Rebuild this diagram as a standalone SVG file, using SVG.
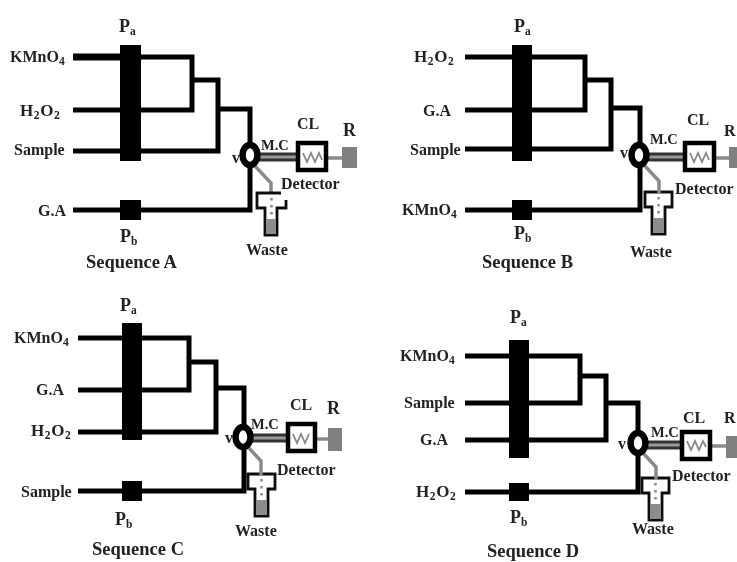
<svg xmlns="http://www.w3.org/2000/svg" xmlns:xlink="http://www.w3.org/1999/xlink" width="737" height="562" viewBox="0 0 737 562">
<style>
text{font-family:"Liberation Serif","Times New Roman",serif;font-weight:bold;font-size:16px;fill:#222}
.seq{font-size:18.5px}
.mcl{font-size:14.5px}
.cl{font-size:16px}
.big{font-size:18px}
.rr{font-size:16px}
.h{font-size:17px;letter-spacing:.6px}
.s{font-size:11.5px}
.l{fill:none;stroke:#000;stroke-width:5}
.thick{stroke-width:7}
.p{fill:#000}
.v{fill:#fff;stroke:#000;stroke-width:6.5}
.mc{fill:none;stroke:#333;stroke-width:9}
.mci{fill:none;stroke:#999;stroke-width:3}
.g{fill:none;stroke:#8a8a8a;stroke-width:3.5}
.d{fill:#fff;stroke:#000;stroke-width:4.5}
.w{fill:none;stroke:#888;stroke-width:1.8}
.r{fill:#808080}
.t{fill:#fff;stroke:#111;stroke-width:2.8}
.f{fill:#8c8c8c}
.dots{stroke:#888;stroke-width:2.5;stroke-dasharray:2.5 4.5;fill:none}
</style>
<defs>
<filter id="soft" x="0" y="0" width="100%" height="100%"><feGaussianBlur stdDeviation="0.55"/></filter>
<g id="wasteShape">
<path class="t" d="M0 0H27V15H20V42H7V15H0Z"/>
<path class="f" d="M8 26H19V41H8Z"/>
<path class="dots" d="M13.500 5V24"/>
</g>
<g id="wasteOpen">
<path class="t" d="M24 0H0V15H8V42H20V15H29V7" fill="none"/>
<path class="f" d="M9 26H19V41H9Z"/>
<path class="dots" d="M14.500 5V24"/>
</g>
</defs>
<rect width="737" height="562" fill="#fff"/>
<g filter="url(#soft)">
<g id="connectors">
<g id="connectors-A">
<path class="l thick" d="M73 57H122"/>
<path class="l" d="M141 57H192V110H73M192 80H218V151H73M218 109H250V150M73 210H250V160"/>
<path class="mc" d="M256 157H298"/><path class="mci" d="M256 157H298"/>
<path class="g" d="M254 165L271 183V195M326 158H342"/>
</g>
<g id="connectors-B">
<path class="l" d="M465 57H585V110H465M585 80H611V149H465M611 108H640V150M465 210H640V160"/>
<path class="mc" d="M646 157H684"/><path class="mci" d="M646 157H684"/>
<path class="g" d="M644 165L659 181M714 158H729"/>
</g>
<g id="connectors-C">
<path class="l" d="M78 338H189V390H78M189 362H216V432H78M216 388H244V432M78 491H244V442"/>
<path class="mc" d="M249 438H287"/><path class="mci" d="M249 438H287"/>
<path class="g" d="M247 446L261 461M315 439H329"/>
</g>
<g id="connectors-D">
<path class="l" d="M465 356H580V403H465M580 376H606V440H465M606 403H638V438M465 492H638V448"/>
<path class="mc" d="M644 445H681"/><path class="mci" d="M644 445H681"/>
<path class="g" d="M643 453L656 467M711 446H727"/>
</g>
</g>

<g id="A-Pa"><rect class="p" x="120" y="45" width="21" height="116"/><text class="big" x="119" y="32">P<tspan class="s" dy="3">a</tspan></text></g>
<g id="A-Pb"><rect class="p" x="120" y="200" width="21" height="20"/><text class="big" x="120" y="242">P<tspan class="s" dy="3">b</tspan></text></g>
<g id="A-KMnO4"><text x="10" y="62">KMnO<tspan class="s" dy="3">4</tspan></text></g>
<g id="A-H2O2"><text class="h" x="20" y="116">H<tspan class="s" dy="3">2</tspan><tspan dy="-3">O</tspan><tspan class="s" dy="3">2</tspan></text></g>
<g id="A-Sample"><text x="14" y="155">Sample</text></g>
<g id="A-GA"><text x="38" y="216">G.A</text></g>
<g id="A-valve"><ellipse class="v" cx="250" cy="155" rx="7.500" ry="10"/><text x="232" y="163">v</text><text class="mcl" x="261" y="150">M.C</text></g>
<g id="A-detector"><rect class="d" x="298" y="143" width="28" height="27"/><path class="w" d="M303 153L307 162L311 153L315 162L319 153L322 160"/><text class="cl" x="297" y="129">CL</text><text x="281" y="189">Detector</text></g>
<g id="A-R"><rect class="r" x="342" y="147" width="15" height="21"/><text class="big" x="343" y="136">R</text></g>
<g id="A-waste"><use xlink:href="#wasteOpen" href="#wasteOpen" transform="translate(257 193)"/><text x="246" y="255">Waste</text></g>
<g id="A-title"><text class="seq" x="86" y="268">Sequence A</text></g>

<g id="B-Pa"><rect class="p" x="512" y="45" width="20" height="116"/><text class="big" x="514" y="32">P<tspan class="s" dy="3">a</tspan></text></g>
<g id="B-Pb"><rect class="p" x="512" y="200" width="20" height="20"/><text class="big" x="514" y="239">P<tspan class="s" dy="3">b</tspan></text></g>
<g id="B-H2O2"><text class="h" x="414" y="62">H<tspan class="s" dy="3">2</tspan><tspan dy="-3">O</tspan><tspan class="s" dy="3">2</tspan></text></g>
<g id="B-GA"><text x="423" y="116">G.A</text></g>
<g id="B-Sample"><text x="410" y="155">Sample</text></g>
<g id="B-KMnO4"><text x="402" y="215">KMnO<tspan class="s" dy="3">4</tspan></text></g>
<g id="B-valve"><ellipse class="v" cx="639" cy="155" rx="7.500" ry="10"/><text x="620" y="158">v</text><text class="mcl" x="650" y="144">M.C</text></g>
<g id="B-detector"><rect class="d" x="685" y="143" width="29" height="27"/><path class="w" d="M690 153L694 162L698 153L702 162L706 153L709 160"/><text class="cl" x="687" y="125">CL</text><text x="675" y="194">Detector</text></g>
<g id="B-R"><rect class="r" x="729" y="147" width="8" height="21"/><text class="rr" x="724" y="136">R</text></g>
<g id="B-waste"><use xlink:href="#wasteShape" href="#wasteShape" transform="translate(645 192)"/><path class="g" d="M659 180V194"/><text x="630" y="257">Waste</text></g>
<g id="B-title"><text class="seq" x="482" y="268">Sequence B</text></g>

<g id="C-Pa"><rect class="p" x="122" y="323" width="20" height="117"/><text class="big" x="120" y="311">P<tspan class="s" dy="3">a</tspan></text></g>
<g id="C-Pb"><rect class="p" x="122" y="481" width="20" height="20"/><text class="big" x="115" y="525">P<tspan class="s" dy="3">b</tspan></text></g>
<g id="C-KMnO4"><text x="14" y="343">KMnO<tspan class="s" dy="3">4</tspan></text></g>
<g id="C-GA"><text x="36" y="395">G.A</text></g>
<g id="C-H2O2"><text class="h" x="31" y="436">H<tspan class="s" dy="3">2</tspan><tspan dy="-3">O</tspan><tspan class="s" dy="3">2</tspan></text></g>
<g id="C-Sample"><text x="21" y="497">Sample</text></g>
<g id="C-valve"><ellipse class="v" cx="243" cy="437" rx="7.500" ry="10"/><text x="225" y="443">v</text><text class="mcl" x="251" y="429">M.C</text></g>
<g id="C-detector"><rect class="d" x="288" y="424" width="27" height="27"/><path class="w" d="M293 434L297 443L301 434L305 443L309 434"/><text class="cl" x="290" y="410">CL</text><text x="277" y="475">Detector</text></g>
<g id="C-R"><rect class="r" x="328" y="428" width="14" height="23"/><text class="big" x="327" y="414">R</text></g>
<g id="C-waste"><use xlink:href="#wasteShape" href="#wasteShape" transform="translate(248 474)"/><path class="g" d="M261 460V476"/><text x="235" y="536">Waste</text></g>
<g id="C-title"><text class="seq" x="92" y="555">Sequence C</text></g>

<g id="D-Pa"><rect class="p" x="509" y="340" width="20" height="118"/><text class="big" x="510" y="323">P<tspan class="s" dy="3">a</tspan></text></g>
<g id="D-Pb"><rect class="p" x="509" y="483" width="20" height="18"/><text class="big" x="510" y="523">P<tspan class="s" dy="3">b</tspan></text></g>
<g id="D-KMnO4"><text x="400" y="361">KMnO<tspan class="s" dy="3">4</tspan></text></g>
<g id="D-Sample"><text x="404" y="408">Sample</text></g>
<g id="D-GA"><text x="420" y="445">G.A</text></g>
<g id="D-H2O2"><text class="h" x="416" y="497">H<tspan class="s" dy="3">2</tspan><tspan dy="-3">O</tspan><tspan class="s" dy="3">2</tspan></text></g>
<g id="D-valve"><ellipse class="v" cx="638" cy="443" rx="7.500" ry="10"/><text x="618" y="449">v</text><text class="mcl" x="651" y="437">M.C</text></g>
<g id="D-detector"><rect class="d" x="682" y="432" width="28" height="27"/><path class="w" d="M687 441L691 450L695 441L699 450L703 441L706 447"/><text class="cl" x="683" y="423">CL</text><text x="672" y="481">Detector</text></g>
<g id="D-R"><rect class="r" x="726" y="436" width="11" height="22"/><text class="rr" x="724" y="423">R</text></g>
<g id="D-waste"><use xlink:href="#wasteShape" href="#wasteShape" transform="translate(642 478)"/><path class="g" d="M656 466V480"/><text x="632" y="534">Waste</text></g>
<g id="D-title"><text class="seq" x="487" y="557">Sequence D</text></g>
</g>
</svg>
